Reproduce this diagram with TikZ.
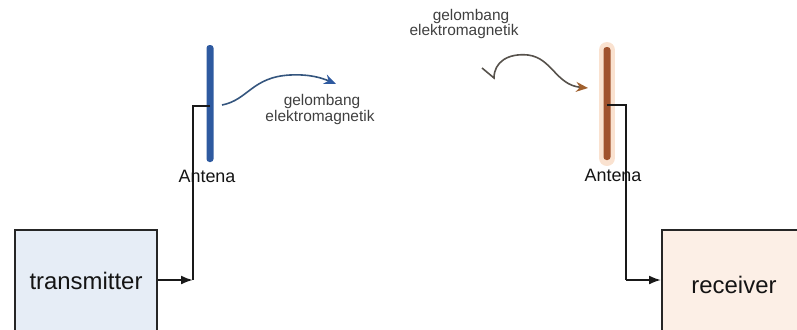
\documentclass[tikz,border=0pt]{standalone}
\usepackage{fontspec}
\setmainfont{Liberation Sans}
\usetikzlibrary{arrows.meta}
\definecolor{txfill}{HTML}{E6EDF6}
\definecolor{rxfill}{HTML}{FCEFE6}
\definecolor{antblue}{HTML}{2E5AA0}
\definecolor{antbrown}{HTML}{A0522D}
\definecolor{halo}{HTML}{FAE2D0}
\definecolor{waveblue}{HTML}{34557E}
\definecolor{wavegray}{HTML}{57524C}
\definecolor{tipbrown}{HTML}{A0602E}
\tikzset{
  blockbox/.style={draw=black!85, line width=2bp, inner sep=0pt},
  bigtext/.style={font=\fontsize{24}{28}\selectfont, text=black!92, inner sep=0pt},
  anttext/.style={font=\fontsize{18}{20}\selectfont, text=black!92, inner sep=0pt},
  wavetext/.style={font=\fontsize{15.5}{17}\selectfont, text=black!75, inner sep=0pt},
  antbar/.style={rounded corners=3bp, minimum width=7bp, inner sep=0pt},
  feed/.style={draw=black!90, line width=2bp},
  feedarrow/.style={feed, -{Latex[length=12bp,width=9bp]}},
  wave/.style={line width=1.6bp}
}
\begin{document}
\begin{tikzpicture}[x=1bp,y=-1bp]
\useasboundingbox (0,0) rectangle (797,329);
\clip (0,0) rectangle (797,329);
% boxes
\node[blockbox, fill=txfill, minimum width=142bp, minimum height=112bp] (tx) at (86,286) {};
\node[bigtext] (txt) at (86,281) {transmitter};
\node[blockbox, fill=rxfill, minimum width=160bp, minimum height=112bp] (rx) at (742,286) {};
\node[bigtext] (rxt) at (734,285) {receiver};
% antennas
\draw[halo, line width=16bp, line cap=round] (607,50) -- (607,158);
\node[antbar, fill=antblue, minimum height=117bp] (antL) at (210,103.5) {};
\node[antbar, fill=antbrown, minimum height=113bp] (antR) at (607,103.5) {};
% feed lines
\coordinate (fL) at (210,106);
\coordinate (jL) at (193,280);
\coordinate (fR) at (607,105);
\coordinate (jR) at (626,280);
\draw[feed] (fL) -| (jL);
\draw[feedarrow] (tx.east |- jL) -- (jL);
\draw[feed] (fR) -| (jR);
\draw[feedarrow] (jR) -- (rx.west |- jR);
% labels
\node[anttext] (aL) at (207,176) {Antena};
\node[anttext] (aR) at (613,175) {Antena};
\node[wavetext] (g1) at (322,102) {gelombang};
\node[wavetext] (e1) at (320,118) {elektromagnetik};
\node[wavetext] (g2) at (471,17) {gelombang};
\node[wavetext] (e2) at (464,32) {elektromagnetik};
% waves
\coordinate (wL) at (222,105);
\coordinate (tL) at (336,84);
\draw[wave, draw=waveblue, -{Stealth[length=12bp,width=10bp,color=antblue]}]
  (wL) .. controls (248,100) and (252,77) .. (290,75) .. controls (310,74) and (322,78) .. (tL);
\coordinate (wR) at (482,68);
\coordinate (tR) at (588,88);
\draw[wave, draw=wavegray, -{Stealth[length=12bp,width=10bp,color=tipbrown]}]
  (wR) -- (494,78) .. controls (494,62) and (508,53) .. (528,55) .. controls (552,58) and (556,85) .. (tR);
\end{tikzpicture}
\end{document}
